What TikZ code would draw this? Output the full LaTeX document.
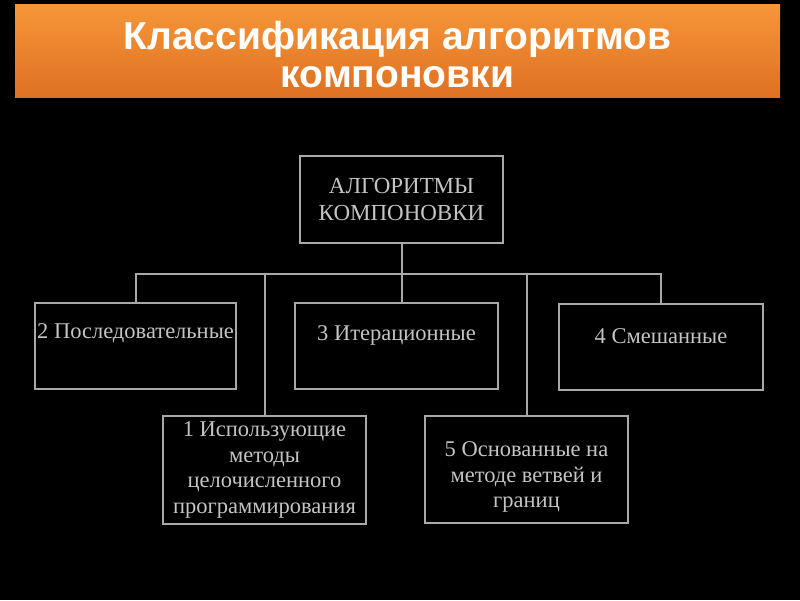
\documentclass[tikz,border=0pt]{standalone}
\usepackage{fontspec}
\setmainfont{Liberation Serif}
\newfontfamily\titlefont{Liberation Sans}
\usetikzlibrary{
  positioning,
  calc
}
\definecolor{slide}{RGB}{0,0,0}
\definecolor{orangetop}{RGB}{246,150,56}
\definecolor{orangebot}{RGB}{222,112,34}
\definecolor{frame}{RGB}{168,168,168}
\definecolor{ink}{RGB}{196,196,196}

\begin{document}
\begin{tikzpicture}[x=1pt, y=1pt,
  box/.style={draw=frame, line width=2pt, text=ink, align=center, inner xsep=0pt},
  topbox/.style={box, minimum width=201pt, text height=36pt, text depth=50pt, inner ysep=0pt, font=\fontsize{22.5}{25}\selectfont},
  lowbox/.style={box, minimum width=203pt, minimum height=107pt, font=\fontsize{22.5}{25.5}\selectfont},
  link/.style={draw=frame, line width=2pt}
]
  \useasboundingbox[fill=slide] (0,0) rectangle (800,600);
  \shade[top color=orangetop, bottom color=orangebot] (15,502) rectangle (780,595);
  \node[text=white, align=center, font=\titlefont\bfseries\fontsize{39}{38}\selectfont] (title) at (397.5,545) {Классификация алгоритмов\\компоновки};

  % root of the classification
  \node[box, minimum width=203pt, minimum height=87pt, font=\fontsize{23}{27}\selectfont] (root) at (401.5,400.5) {АЛГОРИТМЫ\\КОМПОНОВКИ};

  % first row
  \node[topbox, anchor=north] (seq) at (135.5,298) {2 Последовательные};
  \node[topbox, anchor=north, minimum width=203pt, text height=38pt, text depth=48pt] (iter) at (396.5,298) {3 Итерационные};
  \node[topbox, anchor=north, minimum width=204pt, text height=40pt, text depth=46pt] (mix) at (661,297) {4 Смешанные};

  % second row
  \node[lowbox] (int) at (264.5,130) {1 Использующие\\методы\\целочисленного\\программирования};
  \node[lowbox] (bnb) at (526.5,130.5) {\rule{0pt}{30pt}5 Основанные на\\методе ветвей и\\границ};

  \coordinate (bus) at (0,326);
  \draw[link] (root.south) -- (root.south |- iter.north);
  \draw[link] (seq.north) -- (seq.north |- bus) -- (mix.north |- bus) -- (mix.north);
  \draw[link] (int.north) -- (int.north |- bus);
  \draw[link] (bnb.north) -- (bnb.north |- bus);
\end{tikzpicture}
\end{document}
